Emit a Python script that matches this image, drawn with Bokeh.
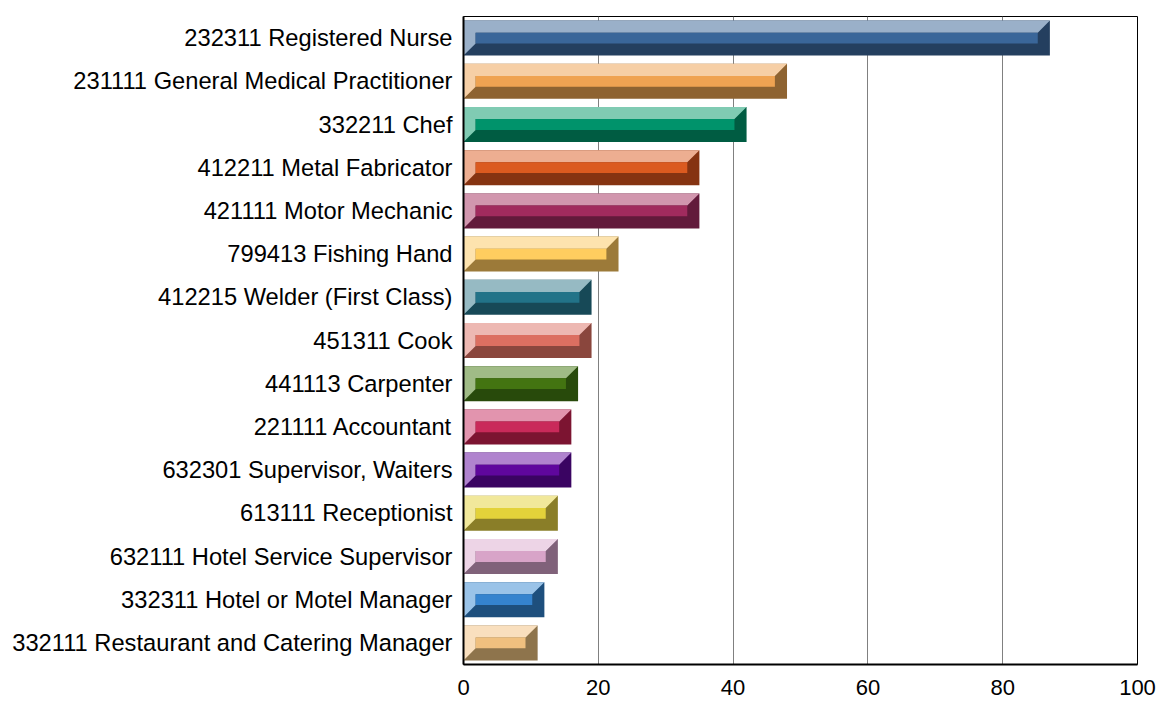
from bokeh.plotting import figure
from bokeh.models import Range1d, FixedTicker, ColumnDataSource
from bokeh.embed import file_html
from bokeh.resources import INLINE

occupations = [
    "232311 Registered Nurse",
    "231111 General Medical Practitioner",
    "332211 Chef",
    "412211 Metal Fabricator",
    "421111 Motor Mechanic",
    "799413 Fishing Hand",
    "412215 Welder (First Class)",
    "451311 Cook",
    "441113 Carpenter",
    "221111 Accountant",
    "632301 Supervisor, Waiters",
    "613111 Receptionist",
    "632111 Hotel Service Supervisor",
    "332311 Hotel or Motel Manager",
    "332111 Restaurant and Catering Manager",
]
values = [87, 48, 42, 35, 35, 23, 19, 19, 17, 16, 16, 14, 14, 12, 11]

light_colors = ["#9AB0C9", "#F6CFA6", "#80CBB3", "#EDAE91", "#D196AE", "#FDE3AE", "#96BAC3",
                "#EDB8B2", "#A0BB86", "#E294AE", "#B083CE", "#F1E89B", "#EDD4E6", "#9AC3E8", "#F9DFBE"]
mid_colors = ["#3A6699", "#EFA352", "#00936B", "#DB5A1F", "#A12B5E", "#FFCD5F", "#227388",
              "#DC6F61", "#437411", "#C92A5A", "#5F079D", "#E3D23A", "#D8A4C8", "#3583CE", "#F0C07F"]
dark_colors = ["#243F5F", "#8E6331", "#005C42", "#853311", "#621A3B", "#9C7A39", "#174957",
               "#8A463D", "#284A0B", "#7C1431", "#3A0462", "#8A7E28", "#80627A", "#1E4F7D", "#8E744C"]

x_ticks = [0, 20, 40, 60, 80, 100]

n = len(occupations)
ys = [n - 1 - i for i in range(n)]
H = 0.405   # half bar height (category units)
BV = 0.28   # vertical bevel (category units)
BH = 1.8    # horizontal bevel (value units)

outer = ColumnDataSource(dict(
    left=[0] * n, right=values,
    top=[y + H for y in ys], bottom=[y - H for y in ys], color=dark_colors))
inner = ColumnDataSource(dict(
    left=[BH] * n, right=[v - BH for v in values],
    top=[y + H - BV for y in ys], bottom=[y - H + BV for y in ys], color=mid_colors))
light = ColumnDataSource(dict(
    xs=[[0, v, v - BH, BH, BH, 0] for v in values],
    ys=[[y + H, y + H, y + H - BV, y + H - BV, y - H + BV, y - H] for y in ys],
    color=light_colors))

p = figure(width=1158, height=702, output_backend="svg", toolbar_location=None,
           x_range=Range1d(0, 100), y_range=Range1d(-0.5, n - 0.5),
           min_border_left=463, min_border_right=21, min_border_top=16, min_border_bottom=38)

p.quad(left="left", right="right", top="top", bottom="bottom", source=outer,
       fill_color="color", line_color=None)
p.patches(xs="xs", ys="ys", source=light, fill_color="color", line_color=None)
p.quad(left="left", right="right", top="top", bottom="bottom", source=inner,
       fill_color="color", line_color=None)

font = "Liberation Sans"
p.yaxis.ticker = FixedTicker(ticks=ys)
p.yaxis.major_label_overrides = {y: occupations[i] for i, y in enumerate(ys)}
p.xaxis.ticker = FixedTicker(ticks=x_ticks)
for ax in (p.xaxis, p.yaxis):
    ax.major_label_text_font = font
    ax.major_label_text_color = "black"
    ax.major_tick_in = 0
    ax.major_tick_out = 0
    ax.minor_tick_in = 0
    ax.minor_tick_out = 0
    ax.axis_line_color = "black"
    ax.axis_line_width = 2
p.yaxis.major_label_text_font_size = "23.7px"
p.xaxis.major_label_text_font_size = "22px"
p.yaxis.major_label_standoff = 11
p.xaxis.major_label_standoff = 15
p.xaxis.major_label_text_line_height = 1.0

p.ygrid.grid_line_color = None
p.xgrid.grid_line_color = "#808080"
p.xgrid.grid_line_width = 1
p.outline_line_color = "black"
p.outline_line_width = 1
p.background_fill_color = "white"
p.border_fill_color = "white"

open("out.html", "w").write(file_html(p, INLINE))
